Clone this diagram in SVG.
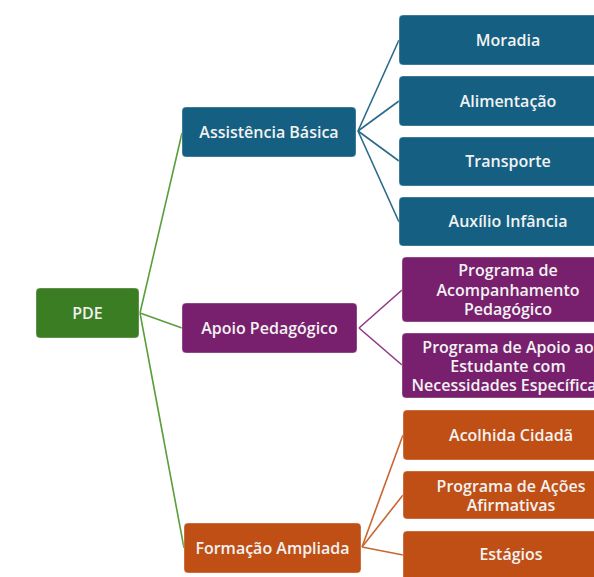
<svg xmlns="http://www.w3.org/2000/svg" width="594" height="577" viewBox="0 0 594 577">
<style>
text{font-family:"Open Sans","Liberation Sans",sans-serif;font-size:16px;font-weight:600;fill:#f2f2f2;text-anchor:middle}
.g{fill:#3B7D23}.b{fill:#156082}.p{fill:#78206E}.o{fill:#C04F15}
rect{stroke:#ffffff;stroke-opacity:0.35;stroke-width:1}
.cg{stroke:#5A9E3C}.cb{stroke:#2A6A8A}.cp{stroke:#8E3A84}.co{stroke:#C9662F}
line{stroke-width:1.6;fill:none}
</style>
<rect width="594" height="577" fill="#ffffff" style="stroke:none"/>
<g id="connectors">
<line class="cg" x1="140" y1="313" x2="182" y2="133"/>
<line class="cg" x1="140" y1="313" x2="182" y2="328"/>
<line class="cg" x1="140" y1="313" x2="184" y2="548"/>
<line class="cb" x1="358" y1="131" x2="399" y2="40"/>
<line class="cb" x1="358" y1="131" x2="399" y2="101"/>
<line class="cb" x1="358" y1="131" x2="399" y2="161"/>
<line class="cb" x1="358" y1="131" x2="399" y2="222"/>
<line class="cp" x1="359" y1="328" x2="402" y2="290"/>
<line class="cp" x1="359" y1="328" x2="402" y2="365"/>
<line class="co" x1="362" y1="547" x2="403" y2="435"/>
<line class="co" x1="362" y1="547" x2="403" y2="495"/>
<line class="co" x1="362" y1="547" x2="403" y2="555"/>
</g>
<g id="pde"><rect class="g" x="36" y="288" width="103" height="50" rx="4"/><text x="87.5" y="318.5">PDE</text></g>
<g id="assistencia"><rect class="b" x="182" y="107" width="174" height="50" rx="4"/><text x="269" y="137.5">Assistência Básica</text></g>
<g id="apoio"><rect class="p" x="182" y="303" width="175" height="50" rx="4"/><text x="269.5" y="333.5">Apoio Pedagógico</text></g>
<g id="formacao"><rect class="o" x="184" y="523" width="177" height="50" rx="4"/><text x="272.5" y="553.5">Formação Ampliada</text></g>
<g id="moradia"><rect class="b" x="399" y="15" width="218" height="50" rx="4"/><text x="508" y="45.5">Moradia</text></g>
<g id="alimentacao"><rect class="b" x="399" y="76" width="218" height="50" rx="4"/><text x="508" y="106.5">Alimentação</text></g>
<g id="transporte"><rect class="b" x="399" y="137" width="218" height="49" rx="4"/><text x="508" y="166.5">Transporte</text></g>
<g id="auxilio"><rect class="b" x="399" y="197" width="218" height="49" rx="4"/><text x="508" y="226.5">Auxílio Infância</text></g>
<g id="acompanhamento"><rect class="p" x="402" y="257" width="216" height="65" rx="4"/><text x="508" y="275.5">Programa de</text><text x="508" y="295.5">Acompanhamento</text><text x="508" y="315">Pedagógico</text></g>
<g id="necessidades"><rect class="p" x="402" y="333" width="216" height="65" rx="4"/><text x="508" y="352.5">Programa de Apoio ao</text><text x="508" y="372">Estudante com</text><text x="508" y="391">Necessidades Específicas</text></g>
<g id="acolhida"><rect class="o" x="403" y="410" width="216" height="50" rx="4"/><text x="511" y="440.5">Acolhida Cidadã</text></g>
<g id="acoes"><rect class="o" x="403" y="471" width="216" height="48" rx="4"/><text x="511" y="491.5">Programa de Ações</text><text x="511" y="510.5">Afirmativas</text></g>
<g id="estagios"><rect class="o" x="403" y="531" width="216" height="50" rx="4"/><text x="511" y="559.5">Estágios</text></g>
</svg>
